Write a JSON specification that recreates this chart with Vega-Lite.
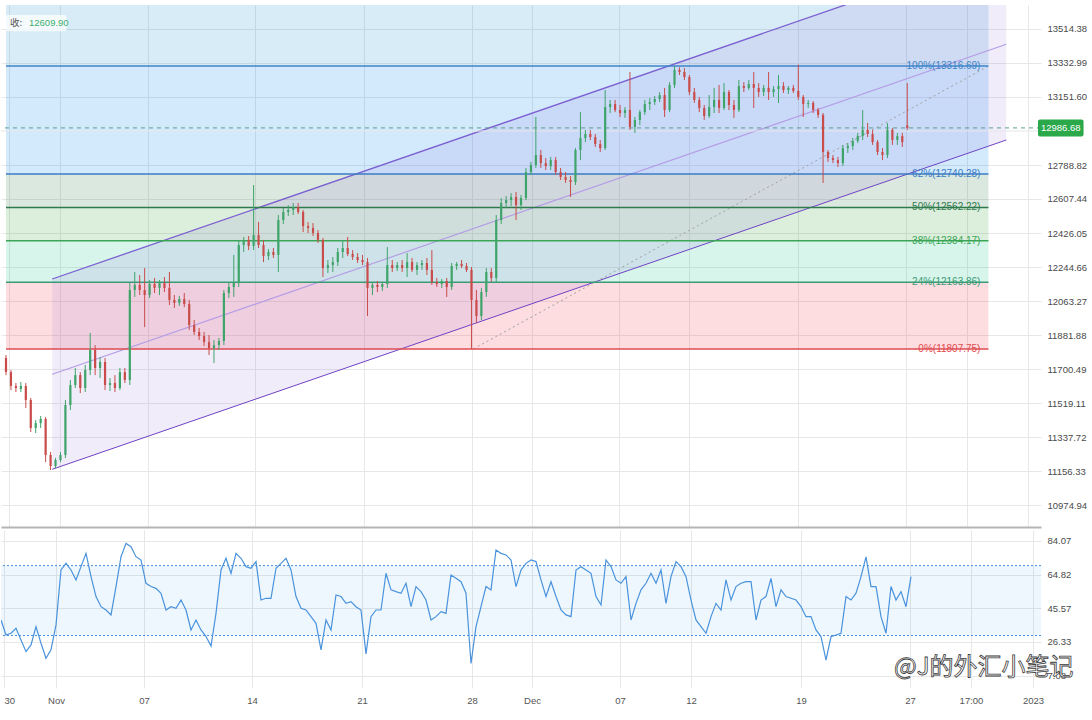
{
  "$schema": "https://vega.github.io/schema/vega-lite/v6.json",
  "description": "Candlestick chart with Fibonacci retracement levels, a regression channel and an RSI panel below.",
  "background": "white",
  "padding": {"left": 0, "top": 5, "right": 0, "bottom": 0},
  "spacing": 3,
  "config": {
    "view": {"stroke": null},
    "font": "Liberation Sans",
    "axis": {"labelFontSize": 9.5, "labelColor": "#4a4a4a", "gridColor": "#e7e7e7", "ticks": false, "domain": false, "title": null, "labelOverlap": false, "tickCount": 30}
  },
  "datasets": {
    "fib": [
      {"lvl": "100%", "p": 13316.69, "top": 14249.18, "from": 0, "to": 198.4, "label": "100%(13316.69)"},
      {"lvl": "62%", "p": 12740.28, "top": 13316.69, "from": 0, "to": 198.4, "label": "62%(12740.28)"},
      {"lvl": "50%", "p": 12562.22, "top": 12740.28, "from": 0, "to": 198.4, "label": "50%(12562.22)"},
      {"lvl": "38%", "p": 12384.17, "top": 12562.22, "from": 0, "to": 198.4, "label": "38%(12384.17)"},
      {"lvl": "24%", "p": 12163.86, "top": 12384.17, "from": 0, "to": 198.4, "label": "24%(12163.86)"},
      {"lvl": "0%", "p": 11807.75, "top": 12163.86, "from": 0, "to": 198.4, "label": "0%(11807.75)"}
    ],
    "channel": [
      {"line": "upper", "i0": 9.34, "p0": 12180.6, "i1": 202, "p1": 13940},
      {"line": "mid", "i0": 9.34, "p0": 11672.2, "i1": 202, "p1": 13432.8},
      {"line": "lower", "i0": 9.34, "p0": 11165.4, "i1": 202, "p1": 12922.2}
    ],
    "candles": [
      {"i":0,"o":11759,"h":11775,"l":11668,"c":11684},
      {"i":1,"o":11684,"h":11695,"l":11588,"c":11610},
      {"i":2,"o":11610,"h":11626,"l":11578,"c":11599},
      {"i":3,"o":11594,"h":11631,"l":11578,"c":11610},
      {"i":4,"o":11610,"h":11626,"l":11492,"c":11535},
      {"i":5,"o":11535,"h":11546,"l":11364,"c":11386},
      {"i":6,"o":11386,"h":11428,"l":11359,"c":11412},
      {"i":7,"o":11412,"h":11450,"l":11386,"c":11434},
      {"i":8,"o":11434,"h":11444,"l":11204,"c":11242},
      {"i":9,"o":11242,"h":11258,"l":11162,"c":11183},
      {"i":10,"o":11183,"h":11226,"l":11172,"c":11215},
      {"i":11,"o":11215,"h":11258,"l":11204,"c":11242},
      {"i":12,"o":11242,"h":11535,"l":11226,"c":11508},
      {"i":13,"o":11508,"h":11642,"l":11482,"c":11615},
      {"i":14,"o":11615,"h":11706,"l":11599,"c":11668},
      {"i":15,"o":11668,"h":11684,"l":11572,"c":11599},
      {"i":16,"o":11599,"h":11722,"l":11578,"c":11695},
      {"i":17,"o":11695,"h":11893,"l":11668,"c":11802},
      {"i":18,"o":11802,"h":11828,"l":11668,"c":11706},
      {"i":19,"o":11706,"h":11764,"l":11652,"c":11738},
      {"i":20,"o":11738,"h":11759,"l":11588,"c":11615},
      {"i":21,"o":11615,"h":11652,"l":11583,"c":11626},
      {"i":22,"o":11626,"h":11668,"l":11578,"c":11599},
      {"i":23,"o":11599,"h":11706,"l":11588,"c":11684},
      {"i":24,"o":11684,"h":11706,"l":11626,"c":11642},
      {"i":25,"o":11642,"h":12159,"l":11615,"c":12122},
      {"i":26,"o":12122,"h":12218,"l":12085,"c":12149},
      {"i":27,"o":12149,"h":12202,"l":12095,"c":12122},
      {"i":28,"o":12122,"h":12239,"l":11924,"c":12095},
      {"i":29,"o":12095,"h":12175,"l":12079,"c":12154},
      {"i":30,"o":12154,"h":12186,"l":12106,"c":12133},
      {"i":31,"o":12133,"h":12175,"l":12095,"c":12159},
      {"i":32,"o":12159,"h":12191,"l":12111,"c":12133},
      {"i":33,"o":12133,"h":12218,"l":12042,"c":12069},
      {"i":34,"o":12069,"h":12095,"l":12026,"c":12053},
      {"i":35,"o":12053,"h":12090,"l":12037,"c":12074},
      {"i":36,"o":12074,"h":12106,"l":12031,"c":12047},
      {"i":37,"o":12047,"h":12069,"l":11909,"c":11935},
      {"i":38,"o":11935,"h":11962,"l":11882,"c":11898},
      {"i":39,"o":11898,"h":11919,"l":11855,"c":11876},
      {"i":40,"o":11876,"h":11898,"l":11823,"c":11844},
      {"i":41,"o":11844,"h":11882,"l":11775,"c":11812},
      {"i":42,"o":11812,"h":11855,"l":11732,"c":11828},
      {"i":43,"o":11828,"h":11866,"l":11802,"c":11850},
      {"i":44,"o":11850,"h":12122,"l":11828,"c":12106},
      {"i":45,"o":12106,"h":12159,"l":12079,"c":12138},
      {"i":46,"o":12138,"h":12309,"l":12085,"c":12159},
      {"i":47,"o":12159,"h":12389,"l":12138,"c":12362},
      {"i":48,"o":12362,"h":12405,"l":12325,"c":12389},
      {"i":49,"o":12389,"h":12410,"l":12335,"c":12357},
      {"i":50,"o":12357,"h":12682,"l":12335,"c":12415},
      {"i":51,"o":12415,"h":12485,"l":12346,"c":12362},
      {"i":52,"o":12362,"h":12389,"l":12271,"c":12303},
      {"i":53,"o":12303,"h":12341,"l":12282,"c":12325},
      {"i":54,"o":12325,"h":12346,"l":12293,"c":12309},
      {"i":55,"o":12309,"h":12522,"l":12218,"c":12495},
      {"i":56,"o":12495,"h":12559,"l":12474,"c":12538},
      {"i":57,"o":12538,"h":12575,"l":12517,"c":12549},
      {"i":58,"o":12549,"h":12586,"l":12522,"c":12565},
      {"i":59,"o":12565,"h":12586,"l":12527,"c":12538},
      {"i":60,"o":12538,"h":12549,"l":12431,"c":12463},
      {"i":61,"o":12463,"h":12485,"l":12426,"c":12453},
      {"i":62,"o":12453,"h":12479,"l":12410,"c":12426},
      {"i":63,"o":12426,"h":12442,"l":12373,"c":12389},
      {"i":64,"o":12389,"h":12399,"l":12191,"c":12239},
      {"i":65,"o":12239,"h":12282,"l":12213,"c":12255},
      {"i":66,"o":12255,"h":12298,"l":12218,"c":12271},
      {"i":67,"o":12271,"h":12346,"l":12250,"c":12325},
      {"i":68,"o":12325,"h":12389,"l":12293,"c":12346},
      {"i":69,"o":12346,"h":12405,"l":12303,"c":12314},
      {"i":70,"o":12314,"h":12335,"l":12282,"c":12298},
      {"i":71,"o":12298,"h":12319,"l":12266,"c":12282},
      {"i":72,"o":12282,"h":12309,"l":12255,"c":12271},
      {"i":73,"o":12271,"h":12293,"l":11983,"c":12133},
      {"i":74,"o":12133,"h":12165,"l":12095,"c":12149},
      {"i":75,"o":12149,"h":12170,"l":12111,"c":12138},
      {"i":76,"o":12138,"h":12159,"l":12117,"c":12154},
      {"i":77,"o":12154,"h":12351,"l":12133,"c":12255},
      {"i":78,"o":12255,"h":12282,"l":12218,"c":12239},
      {"i":79,"o":12239,"h":12271,"l":12223,"c":12255},
      {"i":80,"o":12255,"h":12282,"l":12218,"c":12239},
      {"i":81,"o":12239,"h":12319,"l":12191,"c":12271},
      {"i":82,"o":12271,"h":12293,"l":12218,"c":12229},
      {"i":83,"o":12229,"h":12271,"l":12202,"c":12255},
      {"i":84,"o":12255,"h":12282,"l":12229,"c":12266},
      {"i":85,"o":12266,"h":12293,"l":12202,"c":12229},
      {"i":86,"o":12229,"h":12335,"l":12149,"c":12165},
      {"i":87,"o":12165,"h":12186,"l":12138,"c":12154},
      {"i":88,"o":12154,"h":12181,"l":12133,"c":12170},
      {"i":89,"o":12170,"h":12186,"l":12085,"c":12138},
      {"i":90,"o":12138,"h":12266,"l":12122,"c":12250},
      {"i":91,"o":12250,"h":12271,"l":12229,"c":12261},
      {"i":92,"o":12261,"h":12282,"l":12239,"c":12250},
      {"i":93,"o":12250,"h":12266,"l":12218,"c":12229},
      {"i":94,"o":12229,"h":12245,"l":11807.75,"c":12069},
      {"i":95,"o":12069,"h":12122,"l":11946,"c":11983},
      {"i":96,"o":11983,"h":12133,"l":11962,"c":12111},
      {"i":97,"o":12111,"h":12239,"l":12085,"c":12218},
      {"i":98,"o":12218,"h":12239,"l":12165,"c":12186},
      {"i":99,"o":12186,"h":12522,"l":12165,"c":12495},
      {"i":100,"o":12495,"h":12613,"l":12474,"c":12586},
      {"i":101,"o":12586,"h":12623,"l":12559,"c":12602},
      {"i":102,"o":12602,"h":12639,"l":12570,"c":12618},
      {"i":103,"o":12618,"h":12645,"l":12495,"c":12575},
      {"i":104,"o":12575,"h":12629,"l":12549,"c":12613},
      {"i":105,"o":12613,"h":12773,"l":12602,"c":12751},
      {"i":106,"o":12751,"h":12805,"l":12735,"c":12789},
      {"i":107,"o":12789,"h":13045,"l":12773,"c":12842},
      {"i":108,"o":12842,"h":12869,"l":12773,"c":12799},
      {"i":109,"o":12799,"h":12826,"l":12762,"c":12783},
      {"i":110,"o":12783,"h":12832,"l":12762,"c":12815},
      {"i":111,"o":12815,"h":12832,"l":12735,"c":12751},
      {"i":112,"o":12751,"h":12773,"l":12709,"c":12725},
      {"i":113,"o":12725,"h":12751,"l":12693,"c":12709},
      {"i":114,"o":12709,"h":12730,"l":12618,"c":12698},
      {"i":115,"o":12698,"h":12879,"l":12682,"c":12869},
      {"i":116,"o":12869,"h":13071,"l":12815,"c":12933},
      {"i":117,"o":12933,"h":12976,"l":12911,"c":12954},
      {"i":118,"o":12954,"h":12976,"l":12922,"c":12938},
      {"i":119,"o":12938,"h":12954,"l":12885,"c":12901},
      {"i":120,"o":12901,"h":12922,"l":12858,"c":12879},
      {"i":121,"o":12879,"h":13189,"l":12869,"c":13098},
      {"i":122,"o":13098,"h":13136,"l":13066,"c":13114},
      {"i":123,"o":13114,"h":13136,"l":13071,"c":13082},
      {"i":124,"o":13082,"h":13109,"l":13045,"c":13066},
      {"i":125,"o":13066,"h":13098,"l":13040,"c":13082},
      {"i":126,"o":13082,"h":13285,"l":12976,"c":12992},
      {"i":127,"o":12992,"h":13045,"l":12960,"c":13029},
      {"i":128,"o":13029,"h":13082,"l":13002,"c":13071},
      {"i":129,"o":13071,"h":13136,"l":13056,"c":13114},
      {"i":130,"o":13114,"h":13146,"l":13082,"c":13125},
      {"i":131,"o":13125,"h":13157,"l":13109,"c":13141},
      {"i":132,"o":13141,"h":13178,"l":13125,"c":13162},
      {"i":133,"o":13162,"h":13200,"l":13045,"c":13082},
      {"i":134,"o":13082,"h":13231,"l":13071,"c":13216},
      {"i":135,"o":13216,"h":13316.69,"l":13200,"c":13296},
      {"i":136,"o":13296,"h":13310,"l":13269,"c":13285},
      {"i":137,"o":13285,"h":13306,"l":13242,"c":13258},
      {"i":138,"o":13258,"h":13269,"l":13162,"c":13178},
      {"i":139,"o":13178,"h":13200,"l":13120,"c":13136},
      {"i":140,"o":13136,"h":13152,"l":13071,"c":13093},
      {"i":141,"o":13093,"h":13109,"l":13029,"c":13050},
      {"i":142,"o":13050,"h":13162,"l":13040,"c":13098},
      {"i":143,"o":13098,"h":13200,"l":13066,"c":13136},
      {"i":144,"o":13136,"h":13216,"l":13066,"c":13093},
      {"i":145,"o":13093,"h":13226,"l":13082,"c":13178},
      {"i":146,"o":13178,"h":13189,"l":13082,"c":13109},
      {"i":147,"o":13109,"h":13136,"l":13040,"c":13082},
      {"i":148,"o":13082,"h":13242,"l":13071,"c":13210},
      {"i":149,"o":13210,"h":13231,"l":13178,"c":13200},
      {"i":150,"o":13200,"h":13242,"l":13189,"c":13221},
      {"i":151,"o":13221,"h":13285,"l":13093,"c":13200},
      {"i":152,"o":13200,"h":13226,"l":13152,"c":13178},
      {"i":153,"o":13178,"h":13216,"l":13157,"c":13200},
      {"i":154,"o":13200,"h":13285,"l":13136,"c":13178},
      {"i":155,"o":13178,"h":13210,"l":13152,"c":13194},
      {"i":156,"o":13194,"h":13269,"l":13120,"c":13210},
      {"i":157,"o":13210,"h":13231,"l":13173,"c":13189},
      {"i":158,"o":13189,"h":13210,"l":13168,"c":13200},
      {"i":159,"o":13200,"h":13216,"l":13173,"c":13184},
      {"i":160,"o":13184,"h":13325,"l":13136,"c":13152},
      {"i":161,"o":13152,"h":13162,"l":13045,"c":13114},
      {"i":162,"o":13114,"h":13136,"l":13093,"c":13120},
      {"i":163,"o":13120,"h":13130,"l":13066,"c":13082},
      {"i":164,"o":13082,"h":13093,"l":13040,"c":13056},
      {"i":165,"o":13056,"h":13066,"l":12693,"c":12858},
      {"i":166,"o":12858,"h":12869,"l":12805,"c":12826},
      {"i":167,"o":12826,"h":12842,"l":12799,"c":12815},
      {"i":168,"o":12815,"h":12832,"l":12778,"c":12799},
      {"i":169,"o":12799,"h":12896,"l":12783,"c":12879},
      {"i":170,"o":12879,"h":12906,"l":12853,"c":12890},
      {"i":171,"o":12890,"h":12933,"l":12869,"c":12917},
      {"i":172,"o":12917,"h":12960,"l":12906,"c":12943},
      {"i":173,"o":12943,"h":13082,"l":12922,"c":12976},
      {"i":174,"o":12976,"h":13013,"l":12938,"c":12954},
      {"i":175,"o":12954,"h":12976,"l":12896,"c":12911},
      {"i":176,"o":12911,"h":12922,"l":12842,"c":12858},
      {"i":177,"o":12858,"h":12879,"l":12815,"c":12842},
      {"i":178,"o":12842,"h":13013,"l":12826,"c":12976},
      {"i":179,"o":12976,"h":12986,"l":12896,"c":12922},
      {"i":180,"o":12922,"h":12960,"l":12896,"c":12943},
      {"i":181,"o":12943,"h":12960,"l":12885,"c":12911},
      {"i":182,"o":13000,"h":13226,"l":12976,"c":12986.68}
    ],
    "rsi": [
      {"i":0,"v":38.9},{"i":1,"v":30.3},{"i":2,"v":31.3},{"i":3,"v":34.1},{"i":4,"v":27.5},
      {"i":5,"v":20.8},{"i":6,"v":24.6},{"i":7,"v":35.1},{"i":8,"v":25.6},{"i":9,"v":17.0},
      {"i":10,"v":21.8},{"i":11,"v":36.1},{"i":12,"v":67.5},{"i":13,"v":71.3},{"i":14,"v":67.5},
      {"i":15,"v":61.8},{"i":16,"v":69.4},{"i":17,"v":77.0},{"i":18,"v":63.7},{"i":19,"v":52.3},
      {"i":20,"v":46.5},{"i":21,"v":44.6},{"i":22,"v":41.8},{"i":23,"v":58.0},{"i":24,"v":75.1},
      {"i":25,"v":82.7},{"i":26,"v":80.8},{"i":27,"v":75.1},{"i":28,"v":73.2},{"i":29,"v":59.9},
      {"i":30,"v":58.0},{"i":31,"v":57.0},{"i":32,"v":54.2},{"i":33,"v":44.6},{"i":34,"v":46.5},
      {"i":35,"v":45.6},{"i":36,"v":50.3},{"i":37,"v":44.6},{"i":38,"v":33.2},{"i":39,"v":38.9},
      {"i":40,"v":33.2},{"i":41,"v":29.4},{"i":42,"v":24.0},{"i":43,"v":42.7},{"i":44,"v":67.5},
      {"i":45,"v":74.2},{"i":46,"v":65.6},{"i":47,"v":77.0},{"i":48,"v":74.2},{"i":49,"v":69.4},
      {"i":50,"v":68.5},{"i":51,"v":72.3},{"i":52,"v":50.3},{"i":53,"v":51.3},{"i":54,"v":51.3},
      {"i":55,"v":68.5},{"i":56,"v":71.3},{"i":57,"v":74.2},{"i":58,"v":67.5},{"i":59,"v":52.3},
      {"i":60,"v":45.6},{"i":61,"v":44.6},{"i":62,"v":40.8},{"i":63,"v":37.0},{"i":64,"v":21.8},
      {"i":65,"v":38.9},{"i":66,"v":33.2},{"i":67,"v":53.2},{"i":68,"v":52.3},{"i":69,"v":48.4},
      {"i":70,"v":49.4},{"i":71,"v":46.5},{"i":72,"v":44.6},{"i":73,"v":19.5},{"i":74,"v":40.8},
      {"i":75,"v":44.6},{"i":76,"v":44.6},{"i":77,"v":65.6},{"i":78,"v":56.1},{"i":79,"v":55.1},
      {"i":80,"v":54.2},{"i":81,"v":59.9},{"i":82,"v":46.5},{"i":83,"v":58.0},{"i":84,"v":55.1},
      {"i":85,"v":50.3},{"i":86,"v":38.9},{"i":87,"v":40.8},{"i":88,"v":43.7},{"i":89,"v":42.7},
      {"i":90,"v":64.6},{"i":91,"v":62.7},{"i":92,"v":60.8},{"i":93,"v":54.2},{"i":94,"v":14.0},
      {"i":95,"v":35.1},{"i":96,"v":46.5},{"i":97,"v":58.0},{"i":98,"v":56.1},{"i":99,"v":78.9},
      {"i":100,"v":77.0},{"i":101,"v":76.1},{"i":102,"v":73.2},{"i":103,"v":58.0},{"i":104,"v":67.5},
      {"i":105,"v":71.3},{"i":106,"v":73.2},{"i":107,"v":72.3},{"i":108,"v":61.8},{"i":109,"v":52.3},
      {"i":110,"v":60.8},{"i":111,"v":52.3},{"i":112,"v":44.6},{"i":113,"v":41.8},{"i":114,"v":40.8},
      {"i":115,"v":67.5},{"i":116,"v":69.4},{"i":117,"v":67.5},{"i":118,"v":65.6},{"i":119,"v":52.3},
      {"i":120,"v":47.5},{"i":121,"v":73.2},{"i":122,"v":69.4},{"i":123,"v":61.8},{"i":124,"v":59.9},
      {"i":125,"v":63.7},{"i":126,"v":38.9},{"i":127,"v":48.4},{"i":128,"v":56.1},{"i":129,"v":59.9},
      {"i":130,"v":65.6},{"i":131,"v":59.9},{"i":132,"v":67.5},{"i":133,"v":48.4},{"i":134,"v":63.7},
      {"i":135,"v":72.3},{"i":136,"v":69.4},{"i":137,"v":63.7},{"i":138,"v":50.3},{"i":139,"v":38.9},
      {"i":140,"v":35.1},{"i":141,"v":31.3},{"i":142,"v":40.8},{"i":143,"v":48.4},{"i":144,"v":44.6},
      {"i":145,"v":61.8},{"i":146,"v":50.3},{"i":147,"v":58.0},{"i":148,"v":59.9},{"i":149,"v":60.8},
      {"i":150,"v":60.8},{"i":151,"v":38.9},{"i":152,"v":50.3},{"i":153,"v":52.3},{"i":154,"v":62.7},
      {"i":155,"v":46.5},{"i":156,"v":56.1},{"i":157,"v":52.3},{"i":158,"v":51.3},{"i":159,"v":50.3},
      {"i":160,"v":46.5},{"i":161,"v":40.8},{"i":162,"v":40.8},{"i":163,"v":33.2},{"i":164,"v":29.4},
      {"i":165,"v":16.0},{"i":166,"v":29.4},{"i":167,"v":30.3},{"i":168,"v":31.3},{"i":169,"v":52.3},
      {"i":170,"v":50.3},{"i":171,"v":54.2},{"i":172,"v":63.7},{"i":173,"v":75.0},{"i":174,"v":58.0},
      {"i":175,"v":58.0},{"i":176,"v":40.8},{"i":177,"v":31.3},{"i":178,"v":58.0},{"i":179,"v":50.3},
      {"i":180,"v":55.1},{"i":181,"v":46.5},{"i":182,"v":63.7}
    ]
  },
  "vconcat": [
    {
      "width": 1040,
      "height": 522,
      "layer": [
        {
          "data": {"name": "fib"},
          "mark": {"type": "rect", "clip": true},
          "encoding": {
            "x": {
              "field": "from", "type": "quantitative",
              "scale": {"domain": [0, 208], "nice": false, "zero": false},
              "axis": {
                "orient": "bottom", "title": null, "labels": false, "grid": true, "tickCount": 30,
                "domain": true, "domainColor": "#b5b5b5", "domainWidth": 2,
                "values": [0.6, 11, 28.6, 50.2, 72.2, 94.2, 106.2, 123.8, 138, 160, 181.8, 194, 206.4]
              }
            },
            "x2": {"field": "to"},
            "y": {
              "field": "p", "type": "quantitative",
              "scale": {"domain": [10857.6, 13642.4], "nice": false, "zero": false},
              "axis": {
                "orient": "right", "title": null, "grid": true, "format": ".2f", "labelPadding": 6, "labelOverlap": false, "tickCount": 30,
                "values": [10974.94, 11156.33, 11337.72, 11519.11, 11700.49, 11881.88, 12063.27, 12244.66, 12426.05, 12607.44, 12788.82, 13151.60, 13332.99, 13514.38]
              }
            },
            "y2": {"field": "top"},
            "fill": {
              "field": "lvl", "type": "nominal", "legend": null,
              "scale": {
                "domain": ["100%", "62%", "50%", "38%", "24%", "0%"],
                "range": ["rgba(60,160,215,0.2)", "rgba(33,150,243,0.2)", "rgba(76,140,96,0.2)", "rgba(76,175,80,0.2)", "rgba(38,198,150,0.18)", "rgba(242,54,69,0.17)"]
              }
            }
          }
        },
        {
          "data": {"values": [{"i": 9.34, "up": 12180.6, "lo": 11165.4}, {"i": 202, "up": 13940, "lo": 12922.2}]},
          "mark": {"type": "area", "clip": true, "color": "#8e6fd6", "opacity": 0.13},
          "encoding": {
            "x": {"field": "i", "type": "quantitative"},
            "y": {"field": "up", "type": "quantitative"},
            "y2": {"field": "lo"}
          }
        },
        {
          "data": {"name": "channel"},
          "mark": {"type": "rule", "clip": true},
          "encoding": {
            "x": {"field": "i0", "type": "quantitative"},
            "x2": {"field": "i1"},
            "y": {"field": "p0", "type": "quantitative"},
            "y2": {"field": "p1"},
            "stroke": {
              "field": "line", "type": "nominal", "legend": null,
              "scale": {"domain": ["upper", "mid", "lower"], "range": ["#7b5fd0", "#b49ce6", "#6f43c4"]}
            },
            "strokeWidth": {
              "field": "line", "type": "ordinal", "legend": null,
              "scale": {"domain": ["upper", "mid", "lower"], "range": [1.3, 1, 1.7]}
            }
          }
        },
        {
          "data": {"values": [{"i0": 94.4, "p0": 11807.75, "i1": 198.4, "p1": 13316.69}]},
          "mark": {"type": "rule", "color": "#a0a0a0", "strokeDash": [2, 3], "strokeWidth": 1},
          "encoding": {
            "x": {"field": "i0", "type": "quantitative"},
            "x2": {"field": "i1"},
            "y": {"field": "p0", "type": "quantitative"},
            "y2": {"field": "p1"}
          }
        },
        {
          "data": {"values": [{"p": 12970.21}]},
          "mark": {"type": "rule", "color": "#e7e7e7", "strokeWidth": 1},
          "encoding": {"y": {"field": "p", "type": "quantitative"}}
        },
        {
          "data": {"name": "fib"},
          "mark": {"type": "rule", "strokeWidth": 1.5},
          "encoding": {
            "x": {"field": "from", "type": "quantitative"},
            "x2": {"field": "to"},
            "y": {"field": "p", "type": "quantitative"},
            "color": {
              "field": "lvl", "type": "nominal", "legend": null,
              "scale": {
                "domain": ["100%", "62%", "50%", "38%", "24%", "0%"],
                "range": ["#3f84c8", "#3b7cc4", "#2f7a4c", "#3aa655", "#3a9a74", "#df4b50"]
              }
            }
          }
        },
        {
          "data": {"values": [{"last": 12986.68}]},
          "mark": {"type": "rule", "color": "#5f9d8f", "strokeDash": [4, 4], "strokeWidth": 1},
          "encoding": {"y": {"field": "last", "type": "quantitative"}}
        },
        {
          "data": {"name": "candles"},
          "mark": {"type": "rule", "clip": true, "strokeWidth": 1},
          "encoding": {
            "x": {"field": "i", "type": "quantitative"},
            "y": {"field": "l", "type": "quantitative"},
            "y2": {"field": "h"},
            "color": {"condition": {"test": "datum.c >= datum.o", "value": "#3fa46a"}, "value": "#c94c4a"}
          }
        },
        {
          "data": {"name": "candles"},
          "mark": {"type": "bar", "width": 2.2, "clip": true},
          "encoding": {
            "x": {"field": "i", "type": "quantitative"},
            "y": {"field": "o", "type": "quantitative"},
            "y2": {"field": "c"},
            "color": {"condition": {"test": "datum.c >= datum.o", "value": "#3fa46a"}, "value": "#c94c4a"}
          }
        },
        {
          "data": {"name": "fib"},
          "mark": {"type": "text", "align": "right", "baseline": "middle", "dx": -8, "fontSize": 10},
          "encoding": {
            "x": {"field": "to", "type": "quantitative"},
            "y": {"field": "p", "type": "quantitative"},
            "text": {"field": "label"},
            "color": {"field": "lvl", "type": "nominal", "legend": null}
          }
        },
        {
          "data": {"values": [{"t": "收:"}]},
          "mark": {"type": "rect", "fill": "white", "opacity": 0.75, "cornerRadius": 2},
          "encoding": {
            "x": {"datum": 0}, "x2": {"datum": 12.2},
            "y": {"datum": 13589}, "y2": {"datum": 13503}
          }
        },
        {
          "data": {"values": [{"t": "收:"}]},
          "mark": {"type": "text", "align": "left", "baseline": "middle", "dx": 4, "fontSize": 9.5, "color": "#555555", "font": "Noto Sans CJK SC"},
          "encoding": {"x": {"datum": 0}, "y": {"datum": 13548}, "text": {"field": "t"}}
        },
        {
          "data": {"values": [{"t": "12609.90"}]},
          "mark": {"type": "text", "align": "left", "baseline": "middle", "dx": 23, "fontSize": 9.5, "color": "#3cb06a"},
          "encoding": {"x": {"datum": 0}, "y": {"datum": 13548}, "text": {"field": "t"}}
        },
        {
          "data": {"values": [{"last": 12986.68}]},
          "mark": {"type": "rect", "fill": "#2aa84a", "cornerRadius": 2},
          "encoding": {
            "x": {"datum": 208.4}, "x2": {"datum": 217.6},
            "y": {"datum": 12941.5}, "y2": {"datum": 13031.8}
          }
        },
        {
          "data": {"values": [{"last": 12986.68, "txt": "12986.68"}]},
          "mark": {"type": "text", "align": "center", "baseline": "middle", "fontSize": 9.5, "color": "white"},
          "encoding": {
            "x": {"datum": 213},
            "y": {"field": "last", "type": "quantitative"},
            "text": {"field": "txt"}
          }
        }
      ]
    },
    {
      "width": 1040,
      "height": 158,
      "layer": [
        {
          "data": {"values": [{"lo": 30, "hi": 70}]},
          "mark": {"type": "rect", "color": "#2196f3", "opacity": 0.08},
          "encoding": {
            "y": {
              "field": "lo", "type": "quantitative",
              "scale": {"domain": [0, 90.36], "nice": false, "zero": false},
              "axis": {"orient": "right", "title": null, "grid": true, "format": ".2f", "labelPadding": 6, "labelOverlap": false, "tickCount": 30, "values": [7.08, 26.33, 45.57, 64.82, 84.07]}
            },
            "y2": {"field": "hi"}
          }
        },
        {
          "data": {"values": [{"v": 70}, {"v": 30}]},
          "mark": {"type": "rule", "color": "#4a8fd6", "strokeDash": [2, 2], "strokeWidth": 1},
          "encoding": {"y": {"field": "v", "type": "quantitative"}}
        },
        {
          "data": {"name": "rsi"},
          "mark": {"type": "line", "color": "#4a93dc", "strokeWidth": 1.2, "clip": true},
          "encoding": {
            "x": {
              "field": "i", "type": "quantitative",
              "scale": {"domain": [0, 208], "nice": false, "zero": false},
              "axis": {
                "orient": "bottom", "title": null, "grid": true, "labelFlush": 4, "labelPadding": 7, "labelOverlap": false, "tickCount": 30,
                "labelColor": "#555555",
                "values": [0.6, 11, 28.6, 50.2, 72.2, 94.2, 106.2, 123.8, 138, 160, 181.8, 194, 206.4],
                "labelExpr": "datum.value < 5 ? '30' : datum.value < 20 ? 'Nov' : datum.value < 40 ? '07' : datum.value < 60 ? '14' : datum.value < 80 ? '21' : datum.value < 100 ? '28' : datum.value < 115 ? 'Dec' : datum.value < 130 ? '07' : datum.value < 150 ? '12' : datum.value < 170 ? '19' : datum.value < 188 ? '27' : datum.value < 200 ? '17:00' : '2023'"
              }
            },
            "y": {"field": "v", "type": "quantitative"}
          }
        },
        {
          "data": {"values": [{"t": "@J的外汇小笔记"}]},
          "mark": {"type": "text", "align": "left", "baseline": "middle", "font": "Noto Sans CJK SC", "fontSize": 24, "fill": "white", "stroke": "#3a3a3a", "strokeWidth": 0.8},
          "encoding": {"x": {"datum": 178.6}, "y": {"datum": 11.3}, "text": {"field": "t"}}
        }
      ]
    }
  ]
}
